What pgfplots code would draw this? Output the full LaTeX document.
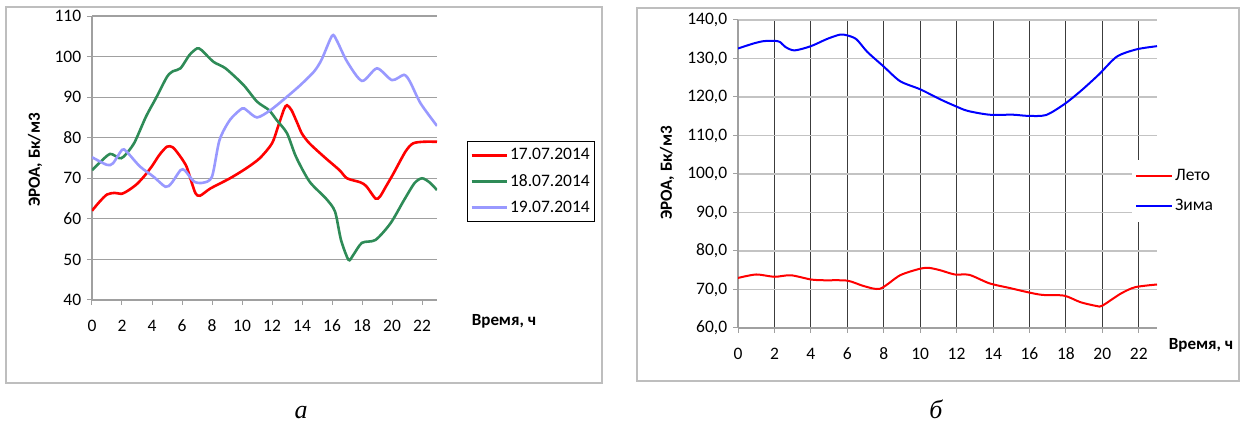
\documentclass[border=0pt]{standalone}
\usepackage{pgfplots}
\pgfplotsset{compat=1.18}
\usepackage{fontspec}
\setmainfont{Carlito}
\newfontfamily\capfont{Liberation Serif}
\definecolor{c17}{RGB}{255,0,0}
\definecolor{c18}{RGB}{46,139,87}
\definecolor{c19}{RGB}{153,153,255}
\definecolor{cblue}{RGB}{0,0,255}
\definecolor{gridgray}{RGB}{160,160,160}
\definecolor{lightgrid}{RGB}{195,195,195}
\definecolor{framegray}{RGB}{190,190,190}
\definecolor{vgrid}{RGB}{60,60,60}
\begin{document}
\fontsize{17}{20}\selectfont
\begin{tikzpicture}[x=1pt,y=1pt]
\useasboundingbox (0,0) rectangle (1240,425);
\draw[framegray, line width=2pt] (6,42) rectangle (602,418);
\draw[framegray, line width=2pt] (637,44) rectangle (1239,417);
% ---------------- left panel
\begin{axis}[
  at={(92pt,125pt)}, anchor=south west, scale only axis,
  width=345pt, height=284pt,
  xmin=0, xmax=23, ymin=40, ymax=110,
  separate axis lines,
  axis x line*=bottom, axis y line*=left,
  axis line style={-, draw=gridgray, line width=1.2pt},
  xtick={0,2,...,22}, ytick={40,50,...,110},
  tick align=outside, major tick length=5pt,
  tick style={draw=gridgray, line width=1pt},
  ymajorgrids, y grid style={draw=gridgray, line width=1.2pt},
  /pgf/number format/assume math mode=true,
  tick label style={font=\fontsize{17.5}{20}\selectfont},
  xticklabel style={yshift=-9pt},
  legend style={at={(1.087,0.56)}, anchor=north west, draw=black, line width=0.8pt,
    inner xsep=3pt, inner ysep=5pt, row sep=8pt,
    font=\fontsize{17.5}{20}\selectfont},
  legend cell align=left,
  legend image code/.code={\draw[#1] (0pt,0pt) -- (35pt,0pt);},
]
\addplot[color=c17, line width=2.6pt, smooth, tension=0.45] coordinates {
(0,62) (0.5,64.2) (1,66) (1.5,66.4) (2,66.2) (2.5,67.2) (3,68.6) (3.5,70.6) (4,73)
(4.5,75.8) (5,77.8) (5.4,77.6) (5.9,75.3) (6.3,72.9) (6.6,69.5) (6.9,66.3) (7.2,65.7)
(7.9,67.5) (9.2,70) (10.3,72.5) (11.2,75) (12,78.6) (12.4,82.7) (12.8,87) (13,88)
(13.3,86.8) (13.7,83.5) (14,81) (14.5,78.6) (15.5,75.2) (16.5,72) (17,70) (17.9,69)
(18.3,68) (18.9,65) (19.2,65.5) (19.6,68) (20.1,71.2) (20.9,76.6) (21.4,78.6) (22.1,79) (23,79)};
\addlegendentry{17.07.2014}
\addplot[color=c18, line width=2.6pt, smooth, tension=0.45] coordinates {
(0,72) (0.5,73.8) (1.2,76) (1.8,75) (2.1,75.3) (2.8,78.6) (3.6,85.2) (4.3,90) (5,95)
(5.4,96.4) (5.9,97.1) (6.5,100.4) (7,102) (7.3,101.6) (8.1,98.7) (8.9,97.1) (10.1,93)
(11,88.9) (11.8,86.8) (12.3,84.4) (13,81.1) (13.6,75.3) (14.5,69.2) (15.6,65) (16.2,61.8)
(16.6,54.8) (17.1,49.9) (17.4,51) (18,54.1) (18.9,54.8) (19.9,58.9) (20.8,64.6)
(21.5,68.8) (22,70) (22.5,69) (23,67.1)};
\addlegendentry{18.07.2014}
\addplot[color=c19, line width=2.6pt, smooth, tension=0.45] coordinates {
(0,75.2) (1,73.3) (1.4,73.7) (2,77) (2.3,76.6) (3.2,72.9) (4.1,70.4) (4.9,67.9) (5.3,68.8)
(5.9,72) (6.2,71.9) (6.8,69.2) (7.4,68.9) (8,70.4) (8.5,79.4) (9.2,84.4) (10,87.2)
(10.3,86.8) (11,85) (11.9,86.8) (13,90.1) (13.9,93) (14.8,96.3) (15.3,99.2) (16,105.1)
(16.3,104.1) (17,98.8) (18,94) (19,97.1) (20,94.2) (20.8,95.5) (21.2,93.8) (21.9,88.5) (23,82.9)};
\addlegendentry{19.07.2014}
\end{axis}
\node[rotate=90, font=\bfseries\fontsize{17}{20}\selectfont] at (35,265) {ЭРОА, Бк/м3};
\node[anchor=west, font=\bfseries\fontsize{17}{20}\selectfont] at (466,104) {Время, ч};
% ---------------- right panel
\begin{axis}[
  at={(738pt,97pt)}, anchor=south west, scale only axis,
  width=419pt, height=308pt,
  xmin=0, xmax=23, ymin=60, ymax=140,
  separate axis lines,
  axis x line*=bottom, axis y line*=left,
  axis line style={-, draw=gridgray, line width=1.2pt},
  xtick={0,2,...,22}, ytick={60,70,...,140},
  tick align=outside, major tick length=5pt,
  tick style={draw=gridgray, line width=1pt},
  xmajorgrids, x grid style={draw=vgrid, line width=1pt},
  ymajorgrids, y grid style={draw=lightgrid, line width=1.5pt},
  /pgf/number format/assume math mode=true,
  yticklabel style={/pgf/number format/.cd, fixed, fixed zerofill, precision=1, use comma},
  tick label style={font=\fontsize{17.5}{20}\selectfont},
  xticklabel style={yshift=-9pt},
  legend style={at={(0.94,0.545)}, anchor=north west, draw=none, fill=white,
    inner xsep=3pt, inner ysep=7pt, row sep=12pt,
    font=\fontsize{17.5}{20}\selectfont},
  legend cell align=left,
  legend image code/.code={\draw[#1] (0pt,0pt) -- (36pt,0pt);},
]
\addplot[color=c17, line width=2pt, smooth, tension=0.45] coordinates {
(0,73.0) (1,73.9) (2,73.3) (2.9,73.7) (4,72.6) (4.7,72.4) (6,72.3) (6.9,70.9) (7.8,70.2)
(8.9,73.7) (10,75.4) (10.5,75.6) (11.1,75.0) (11.9,73.9) (12.7,73.8) (13.8,71.6)
(14.9,70.4) (15.9,69.3) (16.7,68.6) (17.9,68.4) (18.8,66.7) (19.7,65.7) (20,65.8)
(21,68.9) (21.8,70.6) (23,71.3)};
\addlegendentry{Лето}
\addplot[color=cblue, line width=2pt, smooth, tension=0.45] coordinates {
(0,132.6) (0.85,133.9) (1.4,134.5) (2,134.6) (2.3,134.3) (2.6,133) (3.1,132.1) (4,133.2)
(4.9,135.1) (5.6,136.2) (6,136) (6.5,135) (7.1,131.7) (8,127.9) (8.9,124.1) (10,122)
(11.1,119.4) (11.9,117.7) (12.6,116.4) (13.8,115.4) (15.1,115.4) (15.9,115.1) (16.9,115.3)
(17.9,118.1) (18.8,121.5) (19.8,125.8) (20.8,130.5) (21.9,132.4) (23,133.2)};
\addlegendentry{Зима}
\end{axis}
\node[rotate=90, font=\bfseries\fontsize{17}{20}\selectfont] at (667,252) {ЭРОА, Бк/м3};
\node[anchor=east, font=\bfseries\fontsize{17}{20}\selectfont] at (1239,80) {Время, ч};
% captions
\node[anchor=base, font=\capfont\itshape\fontsize{26}{30}\selectfont] at (301,6) {а};
\node[anchor=base, font=\capfont\itshape\fontsize{26}{30}\selectfont] at (936,6) {б};
\end{tikzpicture}
\end{document}
